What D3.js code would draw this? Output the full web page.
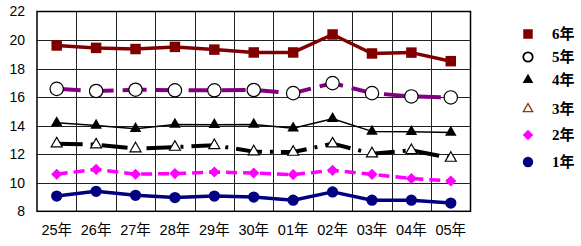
<!DOCTYPE html>
<html>
<head>
<meta charset="utf-8">
<script src="https://cdn.jsdelivr.net/npm/d3@7"></script>
<style>
  body { margin: 0; background: #fff; }
  svg { display: block; }
</style>
</head>
<body>
<script>
// chart data
const years = ["25年", "26年", "27年", "28年", "29年", "30年", "01年", "02年", "03年", "04年", "05年"];
const grade6 = [19.62, 19.45, 19.37, 19.52, 19.33, 19.13, 19.13, 20.39, 19.06, 19.12, 18.52];
const grade5 = [16.58, 16.43, 16.52, 16.48, 16.48, 16.5, 16.28, 16.98, 16.28, 16.05, 15.98];
const grade4 = [14.2, 14.02, 13.79, 14.09, 14.07, 14.09, 13.82, 14.49, 13.6, 13.58, 13.52];
const grade3 = [12.74, 12.67, 12.39, 12.5, 12.62, 12.18, 12.15, 12.74, 12.04, 12.27, 11.73];
const grade2 = [10.6, 10.94, 10.6, 10.64, 10.75, 10.68, 10.57, 10.87, 10.59, 10.3, 10.12];
const grade1 = [9.07, 9.4, 9.12, 8.96, 9.07, 9.0, 8.78, 9.36, 8.78, 8.78, 8.58];
const yTicks = [8, 10, 12, 14, 16, 18, 20, 22];

// diamond = square turned 45deg
const series = [
  { name: "6年", values: grade6, color: "#800000", width: 3.5, dash: null, symbol: d3.symbolSquare, size: 110, rot: 0, fill: "#800000", stroke: "none", legSize: 90 },
  { name: "5年", values: grade5, color: "#800080", width: 4, dash: "24,9", symbol: d3.symbolCircle, size: 140, rot: 0, fill: "#fff", stroke: "#000", legSize: 70 },
  { name: "4年", values: grade4, color: "#000", width: 1.5, dash: null, symbol: d3.symbolTriangle, size: 58, rot: 0, fill: "#000", stroke: "none", legSize: 50 },
  { name: "3年", values: grade3, color: "#000", width: 4, dash: "26,8,3,8", symbol: d3.symbolTriangle, size: 52, rot: 0, fill: "#fff", stroke: "#000", legSize: 38 },
  { name: "2年", values: grade2, color: "#ff00ff", width: 3.5, dash: "11,6", symbol: d3.symbolSquare, size: 62, rot: 45, fill: "#ff00ff", stroke: "none", legSize: 55 },
  { name: "1年", values: grade1, color: "#000080", width: 3.5, dash: null, symbol: d3.symbolCircle, size: 100, rot: 0, fill: "#000080", stroke: "none", legSize: 85 }
];

const W = 581, H = 246;
const plot = { left: 37, right: 470.5, top: 11.5, bottom: 211.3 };

const svg = d3.select("body").append("svg")
  .attr("width", W)
  .attr("height", H);

const x = d3.scaleBand().domain(years).range([plot.left, plot.right]).padding(0);
const y = d3.scaleLinear().domain([8, 22]).range([plot.bottom, plot.top]);
const cx = d => x(d) + x.bandwidth() / 2;

// grid
const grid = svg.append("g").attr("stroke", "#222").attr("stroke-width", 1);
grid.selectAll("line.h")
  .data(yTicks.slice(1, -1))
  .enter().append("line")
  .attr("x1", plot.left).attr("x2", plot.right)
  .attr("y1", d => Math.round(y(d)) + 0.5).attr("y2", d => Math.round(y(d)) + 0.5);
grid.selectAll("line.v")
  .data(years.slice(1))
  .enter().append("line")
  .attr("x1", d => Math.round(x(d)) + 0.5).attr("x2", d => Math.round(x(d)) + 0.5)
  .attr("y1", plot.top).attr("y2", plot.bottom);

svg.append("rect")
  .attr("x", plot.left).attr("y", plot.top)
  .attr("width", plot.right - plot.left).attr("height", plot.bottom - plot.top)
  .attr("fill", "none").attr("stroke", "#000").attr("stroke-width", 1.5);

// y axis labels
const yAxis = svg.append("g")
  .attr("transform", `translate(${plot.left - 12},0)`)
  .call(d3.axisLeft(y).tickValues(yTicks).tickSize(0).tickPadding(0));
yAxis.select(".domain").remove();
yAxis.selectAll("text")
  .attr("font-family", "Liberation Sans, Arial, sans-serif")
  .attr("font-size", 14)
  .attr("fill", "#000");

// x axis labels
const xAxis = svg.append("g")
  .attr("transform", `translate(0,${plot.bottom + 13})`)
  .call(d3.axisBottom(x).tickSize(0).tickPadding(0));
xAxis.select(".domain").remove();
xAxis.selectAll("text")
  .attr("font-family", "Liberation Sans, 'Noto Sans CJK JP', sans-serif")
  .attr("font-size", 14.5)
  .attr("fill", "#000");

// lines
const line = d3.line().x((d, i) => cx(years[i])).y(d => y(d));
svg.append("g").selectAll("path")
  .data(series)
  .enter().append("path")
  .attr("d", s => line(s.values))
  .attr("fill", "none")
  .attr("stroke", s => s.color)
  .attr("stroke-width", s => s.width)
  .attr("stroke-dasharray", s => s.dash)
  .attr("stroke-linejoin", "round");

// markers
series.forEach(s => {
  svg.append("g").selectAll("path")
    .data(s.values)
    .enter().append("path")
    .attr("transform", (d, i) => `translate(${cx(years[i])},${y(d)}) rotate(${s.rot})`)
    .attr("d", d3.symbol().type(s.symbol).size(s.size))
    .attr("fill", s.fill)
    .attr("stroke", s.stroke)
    .attr("stroke-width", 1.2);
});

// legend
const legendY = [34, 57, 80, 109, 135, 162];
const legend = svg.append("g");
series.forEach((s, i) => {
  const g = legend.append("g").attr("transform", `translate(528,${legendY[i]})`);
  g.append("path")
    .attr("transform", `rotate(${s.rot})`)
    .attr("d", d3.symbol().type(s.symbol).size(s.legSize))
    .attr("fill", s.fill)
    .attr("stroke", s.name === "3年" ? "#993300" : s.stroke)
    .attr("stroke-width", s.name === "5年" ? 1.8 : 1.3);
  g.append("text")
    .attr("x", 24).attr("y", 0)
    .attr("dy", "0.35em")
    .attr("font-family", "'Liberation Serif', 'Noto Sans CJK JP', serif")
    .attr("font-weight", "bold")
    .attr("font-size", 15)
    .attr("fill", "#000")
    .text(s.name);
});
</script>
</body>
</html>
